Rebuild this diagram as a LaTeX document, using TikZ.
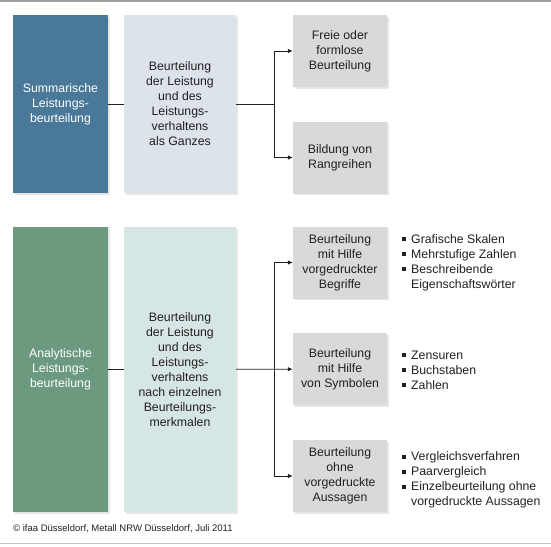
\documentclass[tikz,border=0pt]{standalone}
\usepackage{fontspec}
\setmainfont{Liberation Sans}
\usetikzlibrary{arrows.meta,shadows}
\definecolor{sumblau}{RGB}{74,120,152}
\definecolor{sumhell}{RGB}{220,227,234}
\definecolor{anagruen}{RGB}{107,154,126}
\definecolor{anahell}{RGB}{214,230,228}
\definecolor{artgrau}{RGB}{217,217,217}
\definecolor{textdunkel}{RGB}{35,31,32}
\newcommand{\bul}{\raisebox{1.8pt}{\rule{4pt}{4pt}}}

\begin{document}
\begin{tikzpicture}[x=1pt, y=-1pt,
		every node/.style={font=\fontsize{12.3}{15}\selectfont, text=textdunkel},
		box/.style={align=center, inner sep=0pt, drop shadow={shadow xshift=1.8pt, shadow yshift=-1.8pt, opacity=0.2}},
		hauptbox/.style={box, minimum width=95pt, text=white},
		textbox/.style={box, minimum width=112pt},
		artbox/.style={box, fill=artgrau, minimum width=94pt, minimum height=72pt},
		liste/.style={anchor=west, align=left, inner sep=0pt},
		verbinder/.style={draw=textdunkel, line width=0.8pt},
		pfeil/.style={verbinder, -{Latex[length=5pt,width=4.5pt]}}]
	\useasboundingbox (0,0) rectangle (551,546);

	% Rahmenlinien
	\draw[line width=2pt, color={rgb,255:red,160;green,163;blue,155}] (0,1) -- (551,1);
	\draw[line width=1.5pt, color={rgb,255:red,195;green,195;blue,195}] (0,543.5) -- (551,543.5);

	% Summarische Beurteilung
	\node[hauptbox, fill=sumblau, minimum height=178pt] (sum) at (60.5,104) {Summarische\\Leistungs-\\beurteilung};
	\node[textbox, fill=sumhell, minimum height=178pt] (sumtext) at (180,104) {Beurteilung\\der Leistung\\und des\\Leistungs-\\verhaltens\\als Ganzes};
	\node[artbox] (freie) at (340,51) {Freie oder\\formlose\\Beurteilung};
	\node[artbox] (rang) at (340,157.5) {Bildung von\\Rangreihen};

	% Analytische Beurteilung
	\node[hauptbox, fill=anagruen, minimum height=285pt] (ana) at (60.5,369.5) {Analytische\\Leistungs-\\beurteilung};
	\node[textbox, fill=anahell, minimum height=285pt] (anatext) at (180,369.5) {Beurteilung\\der Leistung\\und des\\Leistungs-\\verhaltens\\nach einzelnen\\Beurteilungs-\\merkmalen};
	\node[artbox] (begriffe) at (340,262.5) {Beurteilung\\mit Hilfe\\vorgedruckter\\Begriffe};
	\node[artbox] (symbole) at (340,369) {Beurteilung\\mit Hilfe\\von Symbolen};
	\node[artbox] (ohne) at (340,476) {Beurteilung\\ohne\\vorgedruckte\\Aussagen};

	% Listen
	\node[liste] (liste1) at (402,262.5) {\begin{tabular}{@{}l@{\hspace{5pt}}l@{}}\bul & Grafische Skalen\\ \bul & Mehrstufige Zahlen\\ \bul & Beschreibende\\ & Eigenschaftswörter\end{tabular}};
	\node[liste] (liste2) at (402,371) {\begin{tabular}{@{}l@{\hspace{5pt}}l@{}}\bul & Zensuren\\ \bul & Buchstaben\\ \bul & Zahlen\end{tabular}};
	\node[liste] (liste3) at (402,480) {\begin{tabular}{@{}l@{\hspace{5pt}}l@{}}\bul & Vergleichsverfahren\\ \bul & Paarvergleich\\ \bul & Einzelbeurteilung ohne\\ & vorgedruckte Aussagen\end{tabular}};

	% Verbinder
	\coordinate (ast1) at (274,104);
	\coordinate (ast2) at (274,369);
	\draw[verbinder] (sum) -- (sumtext);
	\draw[verbinder] (sumtext) -- (ast1);
	\draw[pfeil] (ast1) |- (freie);
	\draw[pfeil] (ast1) |- (rang);
	\draw[verbinder] (ana) -- (anatext);
	\draw[pfeil] (anatext) -- (symbole);
	\draw[pfeil] (ast2) |- (begriffe);
	\draw[pfeil] (ast2) |- (ohne);

	% Quelle
	\node[anchor=west, inner sep=0pt, font=\fontsize{9.5}{11}\selectfont] (quelle) at (13,529) {© ifaa Düsseldorf, Metall NRW Düsseldorf, Juli 2011};
\end{tikzpicture}
\end{document}
